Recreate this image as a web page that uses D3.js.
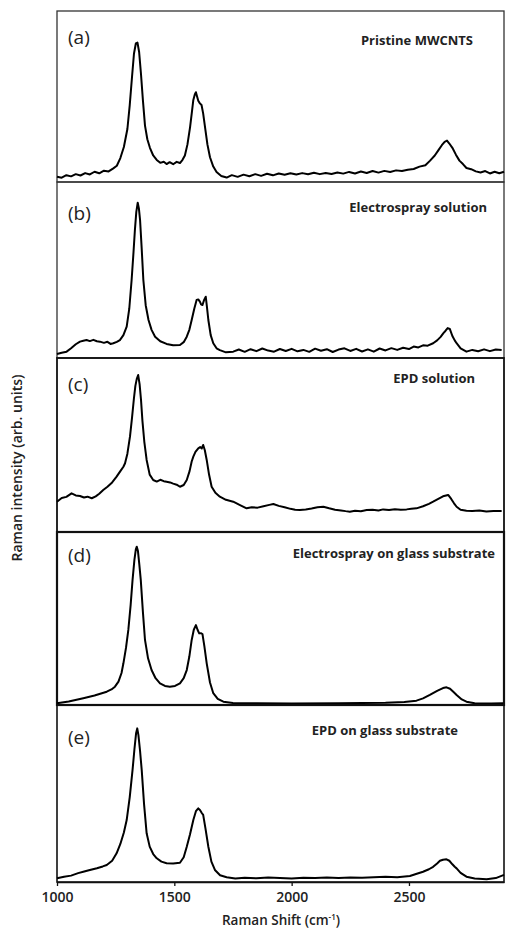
<!DOCTYPE html>
<html>
<head>
<meta charset="utf-8">
<script src="https://cdn.jsdelivr.net/npm/d3@7"></script>
<style>
  body { margin: 0; background: #fff; }
  svg { display: block; font-family: "Open Sans", sans-serif; }
</style>
</head>
<body>
<svg id="chart"></svg>
<script>
// Raman spectra, [shift (cm-1), intensity (arb. units, 0-100 per panel)]
const spectrumA = [[1000,3.1],[1020,2.5],[1040,4.0],[1060,3.3],[1080,4.6],[1100,3.8],[1120,5.2],[1140,4.4],[1160,6.0],[1180,5.1],
  [1200,6.6],[1220,6.2],[1240,8.0],[1255,9.5],[1270,14.0],[1285,20.5],[1300,31],[1310,45],[1320,62],[1328,75],[1336,81],[1343,81.5],
  [1350,76],[1358,63],[1366,48],[1375,33],[1385,25],[1396,20],[1410,15.5],[1425,12.9],[1440,11.2],[1455,11.8],[1467,10.5],[1480,11.6],
  [1495,10.4],[1510,11.8],[1524,11.1],[1535,13.0],[1545,15.5],[1556,22],[1567,32],[1575,41],[1581,48],[1587,51],[1592,52.5],[1597,50],
  [1602,47.5],[1609,46],[1616,45],[1623,40],[1631,32],[1641,22],[1652,14.5],[1666,9],[1680,5.8],[1700,3.5],[1723,2.6],
  [1745,4.0],[1770,3.0],[1795,4.3],[1820,3.4],[1845,4.6],[1870,3.6],[1895,4.8],[1920,3.9],[1945,5.0],[1970,4.2],[1995,5.1],[2020,4.4],
  [2045,5.2],[2070,4.5],[2095,5.4],[2120,4.6],[2145,5.3],[2170,4.7],[2195,5.6],[2220,4.9],[2245,5.9],[2270,5.0],[2295,6.1],[2320,5.3],
  [2345,6.4],[2370,5.5],[2395,6.5],[2420,5.9],[2445,6.8],[2470,6.4],[2495,7.2],[2520,7.6],[2545,9.0],[2570,9.8],[2590,12.5],[2610,15.5],
  [2625,18.5],[2640,21.5],[2652,23.5],[2662,24.2],[2672,22.5],[2685,20.0],[2700,16.0],[2715,12.5],[2730,10.5],[2745,8.2],[2765,7.5],
  [2785,6.2],[2805,5.6],[2825,6.4],[2845,5.0],[2865,6.0],[2885,5.1],[2905,6.0]]

const spectrumB = [[1000,2.3],[1020,3.0],[1041,3.6],[1060,5.5],[1080,7.8],[1098,9.3],[1112,9.8],[1126,10.2],[1140,9.6],[1155,10.3],
  [1170,9.5],[1183,9.3],[1200,8.6],[1215,9.2],[1228,8.0],[1240,8.4],[1255,9.2],[1268,10.2],[1283,13.0],[1297,17.8],[1308,28],[1318,44.3],
  [1326,60],[1332,72.7],[1338,83],[1344,88.2],[1349,85],[1354,78.4],[1361,62],[1368,44.3],[1378,30],[1390,21.6],[1403,16],[1418,12.1],
  [1440,9.5],[1467,8.0],[1495,7.2],[1524,7.4],[1540,9.0],[1553,12.1],[1564,16],[1574,21.6],[1585,28],[1595,33],[1602,33.3],[1609,32],
  [1614,30.5],[1620,30.1],[1627,33],[1634,34.8],[1639,29],[1645,21.6],[1655,13],[1666,8.4],[1680,5.5],[1694,4.5],[1720,3.2],[1751,3.6],
  [1775,4.8],[1800,3.5],[1825,5.0],[1850,3.9],[1875,5.4],[1900,4.2],[1925,3.6],[1950,5.1],[1975,4.0],[2000,5.2],[2025,3.8],[2050,4.6],
  [2075,3.5],[2100,5.3],[2125,4.1],[2150,5.0],[2175,3.4],[2200,4.8],[2225,5.5],[2250,4.0],[2275,5.2],[2300,3.7],[2325,4.9],[2350,3.6],
  [2375,5.4],[2400,4.3],[2425,5.6],[2450,4.6],[2475,5.8],[2500,5.1],[2520,6.5],[2540,6.0],[2560,7.2],[2580,7.0],[2603,8.4],[2620,10.0],
  [2635,12.0],[2646,14.0],[2656,15.5],[2665,17.0],[2674,16.5],[2685,12.5],[2695,10.0],[2703,8.4],[2720,5.5],[2745,3.6],[2770,4.6],
  [2795,3.8],[2820,4.9],[2845,3.9],[2870,4.8],[2895,4.5]]

const spectrumC = [[1000,17.4],[1020,19.5],[1040,20.2],[1062,22.2],[1080,21.0],[1098,20.7],[1115,19.8],[1130,20.3],[1148,19.4],[1165,20.5],
  [1180,22.0],[1197,24.1],[1215,26.0],[1235,28.5],[1254,31.8],[1270,35.0],[1283,37.5],[1290,39.5],[1300,45],[1311,54.8],[1320,66],[1328,77],
  [1334,84],[1340,88],[1346,90.2],[1352,85],[1358,76],[1364,64],[1372,52],[1382,41.4],[1395,33],[1410,29.9],[1425,29.0],[1440,30.0],
  [1455,29.2],[1467,28.9],[1482,28.5],[1495,27.8],[1510,27.2],[1524,26.0],[1540,27.0],[1553,29.9],[1565,35],[1574,40.5],[1581,43.3],
  [1590,46],[1602,48.1],[1610,48.8],[1617,48.0],[1623,50],[1630,47],[1638,41.4],[1648,33],[1659,26.0],[1675,22.5],[1694,20.3],[1720,18.5],
  [1751,17.4],[1780,15.5],[1808,13.6],[1830,14.2],[1855,14.0],[1880,14.8],[1905,15.6],[1922,16.1],[1945,15.0],[1970,14.2],[1995,13.3],
  [2015,12.8],[2035,12.6],[2060,12.9],[2085,13.5],[2110,14.2],[2135,14.5],[2160,13.6],[2185,12.8],[2210,12.4],[2230,12.0],[2248,11.7],
  [2270,12.2],[2295,11.9],[2320,12.6],[2345,12.8],[2370,12.4],[2390,13.0],[2415,12.7],[2440,13.1],[2465,12.8],[2490,13.0],[2510,13.3],
  [2532,13.6],[2560,14.8],[2585,16.2],[2603,17.4],[2625,19.0],[2645,20.5],[2667,21.3],[2680,19.0],[2692,16.5],[2703,14.5],[2720,12.8],
  [2745,12.2],[2770,12.0],[2800,12.4],[2830,11.8],[2860,12.0],[2895,12.1]]

const spectrumD = [[1000,1.0],[1050,2.0],[1112,3.9],[1160,5.5],[1212,7.7],[1232,9.0],[1247,10.6],[1262,13.5],[1275,18.5],[1283,24.1],
  [1294,33],[1304,43.4],[1314,58],[1322,72.3],[1330,84],[1336,90],[1340,91.5],[1345,89],[1351,81],[1357,72.3],[1366,54],[1375,37.6],
  [1388,27],[1403,20.2],[1420,15.5],[1439,12.5],[1460,11.0],[1481,10.6],[1503,11.0],[1524,12.5],[1540,15.5],[1553,20.2],[1564,28],
  [1574,37.6],[1583,43.5],[1592,46.2],[1599,43.5],[1606,41.4],[1613,41.5],[1620,41.0],[1628,34],[1638,24.1],[1652,13],[1666,6.8],
  [1685,3.5],[1709,1.9],[1750,1.2],[1850,1.0],[2000,0.9],[2200,1.0],[2400,1.3],[2480,1.8],[2532,2.5],[2560,3.8],[2589,5.8],[2620,8.2],
  [2645,9.8],[2660,10.2],[2675,9.4],[2690,7.5],[2703,5.8],[2725,3.2],[2745,1.9],[2780,1.0],[2850,0.9],[2902,1.0]]

const spectrumE = [[1000,2.1],[1030,3.0],[1060,3.6],[1090,5.0],[1112,5.8],[1140,6.8],[1170,7.8],[1195,8.8],[1212,9.6],[1235,12.0],
  [1254,16.2],[1270,21.5],[1285,28],[1297,35.0],[1310,48],[1322,63.3],[1330,75],[1337,84],[1342,86.8],[1347,83],[1354,74],[1361,63.3],
  [1371,44],[1382,27.5],[1395,20],[1410,15.8],[1425,13.4],[1445,11.5],[1467,10.6],[1495,10.5],[1524,10.9],[1540,14],[1553,19.9],[1567,27],
  [1581,35.0],[1592,40],[1602,41.6],[1610,40.5],[1617,39],[1623,37.9],[1633,30],[1645,19.9],[1658,11.5],[1673,6.8],[1695,3.8],[1723,2.7],
  [1760,2.0],[1800,2.4],[1850,2.1],[1900,2.6],[1950,2.3],[2000,2.0],[2050,2.4],[2100,2.2],[2150,2.5],[2200,2.3],[2250,2.6],[2300,2.4],
  [2350,2.7],[2400,2.9],[2450,2.7],[2504,3.4],[2530,4.5],[2560,5.8],[2585,7.2],[2603,8.6],[2620,10.5],[2632,12.0],[2645,12.6],[2660,12.8],
  [2672,12.0],[2685,10.0],[2695,8.6],[2703,7.7],[2720,5.2],[2745,3.0],[2780,2.0],[2831,1.5],[2870,2.2],[2905,4.0]]

const panelLabels = ["(a)", "(b)", "(c)", "(d)", "(e)"]
const panelTitles = ["Pristine MWCNTS", "Electrospray solution", "EPD solution", "Electrospray on glass substrate", "EPD on glass substrate"]
const xTicks = [1000, 1500, 2000, 2500]

const spectra = [spectrumA, spectrumB, spectrumC, spectrumD, spectrumE]

// layout
const width = 508, height = 934
const edges = [11, 182, 358, 532, 705, 882]
const titleRight = [473, 487, 475, 495, 458]
const titleDy = [34, 30, 25, 26, 30]
const labelDy = [33, 38, 33, 30, 39]
const borderWidth = [1.3, 1.3, 1.8, 2.2, 1.6]

const svg = d3.select("#chart").attr("width", width).attr("height", height)

const x = d3.scaleLinear().domain([1000, 2905]).range([57, 504])

spectra.forEach((data, i) => {
    let top = edges[i], bottom = edges[i + 1]
    let y = d3.scaleLinear().domain([0, 100]).range([bottom, top])
    let g = svg.append("g")

    g.append("rect")
        .attr("x", x.range()[0]).attr("y", top)
        .attr("width", x.range()[1] - x.range()[0]).attr("height", bottom - top)
        .attr("fill", "none")
        .attr("stroke", i < 2 ? "#333" : "#111")
        .attr("stroke-width", borderWidth[i])

    let line = d3.line().x(d => x(d[0])).y(d => y(d[1]))
    g.append("path")
        .datum(data)
        .attr("d", line)
        .attr("fill", "none")
        .attr("stroke", "#000")
        .attr("stroke-width", 2)
        .attr("stroke-linejoin", "round")

    g.append("text")
        .attr("x", 68).attr("y", top + labelDy[i])
        .attr("font-size", 19)
        .attr("fill", "#222")
        .text(panelLabels[i])

    g.append("text")
        .attr("x", titleRight[i]).attr("y", top + titleDy[i])
        .attr("text-anchor", "end")
        .attr("font-size", 13)
        .attr("font-weight", 700)
        .attr("fill", "#222")
        .text(panelTitles[i])
})

// x axis
let xAxis = d3.axisBottom(x).tickValues(xTicks).tickFormat(d3.format("d"))
    .tickSize(4).tickSizeOuter(0).tickPadding(6)
let axisG = svg.append("g")
    .attr("transform", `translate(0, ${edges[5]})`)
    .call(xAxis)
axisG.select(".domain").attr("stroke", "#111").attr("stroke-width", 1.6)
axisG.selectAll(".tick line").attr("stroke", "#111").attr("stroke-width", 1.3)
axisG.selectAll(".tick text")
    .attr("font-family", "Open Sans, sans-serif")
    .attr("font-size", 14)
    .attr("font-weight", 600)
    .attr("fill", "#222")

let xTitle = svg.append("text")
    .attr("x", 281).attr("y", 925)
    .attr("text-anchor", "middle")
    .attr("font-size", 13.5)
    .attr("font-weight", 600)
    .attr("fill", "#222")
xTitle.append("tspan").text("Raman Shift (cm")
xTitle.append("tspan").attr("font-size", 8).attr("dy", -5).text("-1")
xTitle.append("tspan").attr("dy", 5).text(")")

svg.append("text")
    .attr("transform", "translate(22, 468) rotate(-90)")
    .attr("text-anchor", "middle")
    .attr("font-size", 14)
    .attr("font-weight", 600)
    .attr("fill", "#222")
    .text("Raman intensity (arb. units)")
</script>
</body>
</html>
